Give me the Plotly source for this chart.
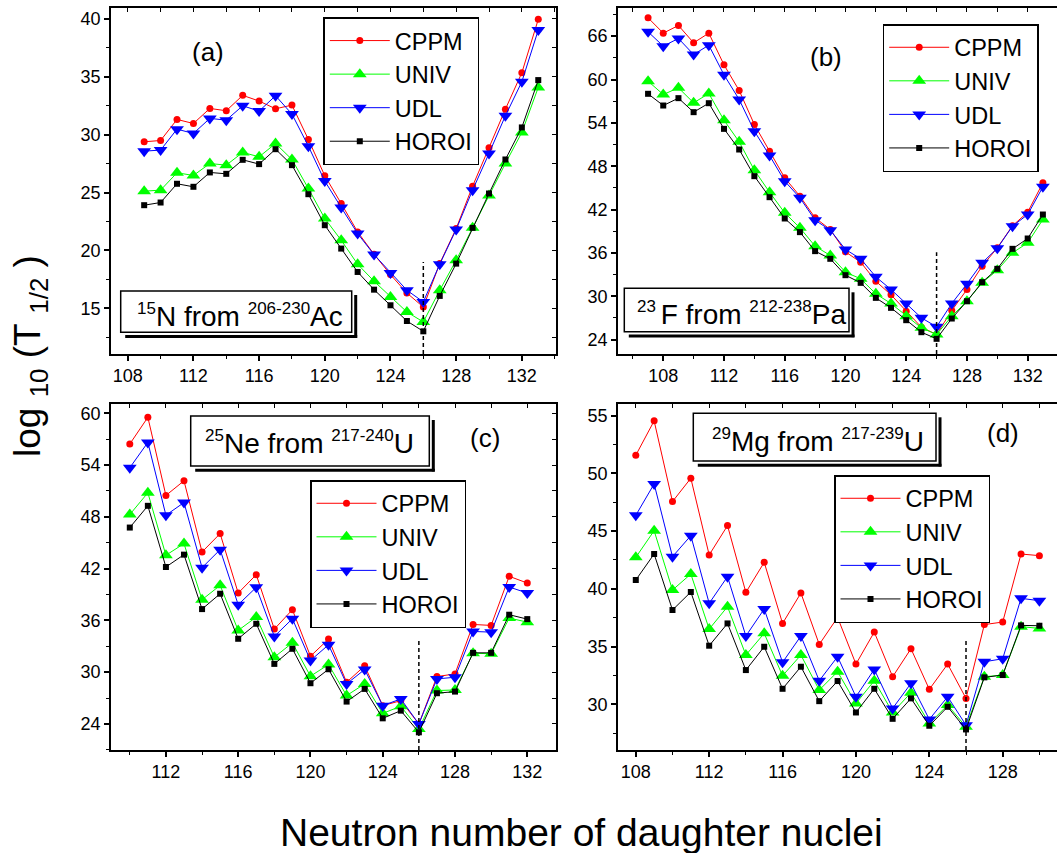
import plotly.graph_objects as go

# ---------------- data ----------------
# (a) 15N from 206-230Ac
n_a = [109, 110, 111, 112, 113, 114, 115, 116, 117, 118, 119, 120, 121, 122, 123, 124, 125, 126, 127, 128, 129, 130, 131, 132, 133]
cppm_a = [29.39, 29.50, 31.32, 30.97, 32.27, 32.07, 33.40, 32.91, 32.24, 32.56, 29.59, 26.45, 24.05, 21.60, 19.67, 17.91, 16.32, 15.11, 18.87, 21.89, 25.55, 28.87, 32.21, 35.36, 39.97]
univ_a = [25.12, 25.21, 26.71, 26.48, 27.51, 27.37, 28.47, 28.09, 29.24, 27.86, 25.35, 22.76, 20.88, 18.81, 17.34, 15.98, 14.68, 13.82, 16.56, 19.15, 21.95, 24.75, 27.52, 30.20, 34.09]
udl_a = [28.58, 28.67, 30.48, 30.11, 31.41, 31.26, 32.50, 32.04, 33.37, 31.78, 29.01, 25.99, 23.71, 21.46, 19.64, 18.06, 16.56, 15.55, 18.81, 21.81, 25.21, 28.38, 31.64, 34.58, 39.05]
horoi_a = [23.91, 24.14, 25.76, 25.50, 26.74, 26.62, 27.83, 27.46, 28.75, 27.37, 24.86, 22.18, 20.16, 18.14, 16.61, 15.26, 13.90, 13.01, 16.07, 18.86, 21.95, 24.92, 27.86, 30.63, 34.72]

# (b) 23F from 212-238Pa
n_b = [107, 108, 109, 110, 111, 112, 113, 114, 115, 116, 117, 118, 119, 120, 121, 122, 123, 124, 125, 126, 127, 128, 129, 130, 131, 132, 133]
cppm_b = [68.54, 66.42, 67.48, 65.08, 66.42, 62.03, 58.48, 53.77, 50.08, 46.39, 43.85, 40.85, 39.23, 36.14, 34.71, 32.08, 30.19, 27.93, 25.71, 24.70, 28.02, 30.93, 34.16, 36.70, 39.75, 41.63, 45.70]
univ_b = [59.77, 57.92, 58.85, 56.77, 58.06, 54.37, 51.37, 47.45, 44.40, 41.54, 39.47, 36.93, 35.64, 33.33, 32.41, 30.33, 28.99, 27.24, 25.62, 24.70, 27.24, 29.31, 31.85, 33.60, 36.00, 37.39, 40.62]
udl_b = [66.60, 64.62, 65.68, 63.46, 64.75, 60.65, 57.23, 52.85, 49.48, 45.93, 43.62, 40.53, 39.14, 36.47, 35.18, 32.68, 30.93, 28.99, 27.01, 25.76, 28.99, 31.71, 34.62, 36.65, 39.70, 41.31, 45.14]
horoi_b = [58.02, 56.40, 57.42, 55.48, 56.72, 53.17, 50.31, 46.62, 43.71, 40.76, 38.87, 36.24, 35.18, 32.91, 31.85, 29.77, 28.39, 26.68, 25.02, 24.10, 26.91, 29.31, 31.94, 33.79, 36.56, 37.99, 41.31]

# (c) 25Ne from 217-240U
n_c = [110, 111, 112, 113, 114, 115, 116, 117, 118, 119, 120, 121, 122, 123, 124, 125, 126, 127, 128, 129, 130, 131, 132]
cppm_c = [56.44, 59.54, 50.48, 52.18, 43.93, 46.06, 39.17, 41.30, 34.99, 37.24, 31.85, 33.83, 28.83, 30.73, 26.12, 26.70, 24.00, 29.49, 29.80, 35.53, 35.42, 41.11, 40.33]
univ_c = [48.27, 50.79, 43.55, 44.90, 38.40, 40.06, 34.84, 36.38, 31.74, 33.40, 29.53, 30.89, 27.29, 28.64, 25.23, 26.05, 23.41, 27.87, 27.94, 32.20, 32.13, 36.27, 35.80]
udl_c = [53.69, 56.63, 48.19, 49.66, 42.11, 44.20, 37.82, 39.83, 34.14, 36.19, 31.35, 33.17, 28.64, 30.31, 26.12, 26.90, 24.00, 29.22, 29.41, 34.72, 34.64, 39.87, 39.17]
horoi_c = [46.76, 49.28, 42.19, 43.62, 37.31, 39.09, 33.87, 35.61, 30.96, 32.71, 28.72, 30.34, 26.59, 28.06, 24.65, 25.54, 23.03, 27.56, 27.75, 32.24, 32.24, 36.66, 36.15]

# (d) 29Mg from 217-239U
n_d = [108, 109, 110, 111, 112, 113, 114, 115, 116, 117, 118, 119, 120, 121, 122, 123, 124, 125, 126, 127, 128, 129, 130]
cppm_d = [51.56, 54.54, 47.55, 49.57, 42.93, 45.47, 39.69, 42.29, 37.00, 39.63, 35.18, 37.52, 33.48, 36.25, 32.38, 34.81, 31.29, 33.48, 30.51, 36.90, 37.12, 43.01, 42.87]
univ_d = [42.72, 45.03, 39.89, 41.28, 36.51, 38.45, 34.26, 36.14, 32.47, 34.26, 31.23, 32.82, 30.07, 32.04, 29.29, 31.00, 28.34, 29.93, 28.05, 32.38, 32.53, 36.72, 36.57]
udl_d = [46.36, 49.08, 42.78, 44.60, 38.74, 41.05, 35.91, 38.25, 33.63, 35.91, 32.04, 34.12, 30.65, 33.02, 29.64, 31.81, 28.69, 30.65, 28.19, 33.68, 33.94, 39.17, 38.97]
horoi_d = [40.76, 43.01, 38.16, 39.72, 35.07, 37.00, 32.96, 34.98, 31.34, 33.25, 30.27, 32.01, 29.29, 31.34, 28.74, 30.51, 28.14, 29.78, 27.82, 32.33, 32.53, 36.83, 36.80]

series_names = ["CPPM", "UNIV", "UDL", "HOROI"]
panel_labels = ["(a)", "(b)", "(c)", "(d)"]
panel_titles = [
    "<sup><span style='font-size:17px'>15</span></sup>N from <sup><span style='font-size:17px'>206-230</span></sup>Ac",
    "<sup><span style='font-size:17px'>23 </span></sup>F from <sup><span style='font-size:17px'>212-238</span></sup>Pa",
    "<sup><span style='font-size:17px'>25</span></sup>Ne from <sup><span style='font-size:17px'>217-240</span></sup>U",
    "<sup><span style='font-size:17px'>29</span></sup>Mg from <sup><span style='font-size:17px'>217-239</span></sup>U",
]
magic_n = 126
magic_line_top = [19.0, 36.1, 33.9, 35.7]

panels = [
    dict(n=n_a, vals=[cppm_a, univ_a, udl_a, horoi_a]),
    dict(n=n_b, vals=[cppm_b, univ_b, udl_b, horoi_b]),
    dict(n=n_c, vals=[cppm_c, univ_c, udl_c, horoi_c]),
    dict(n=n_d, vals=[cppm_d, univ_d, udl_d, horoi_d]),
]

# ---------------- style / layout ----------------
W, H = 1057, 853
FONT = "Liberation Sans, Arial, sans-serif"

def fx(p):
    return p / W

def fy(p):
    return 1 - p / H

# panel pixel boxes: left, right, top, bottom
boxes = [(111, 556, 8, 354), (618, 1057, 8, 354), (111, 556, 404, 750), (618, 1057, 404, 750)]
xranges = [[106.98, 134.08], [105.02, 133.93], [108.96, 133.59], [107.03, 130.96]]
yranges = [[11.05, 40.95], [22.0, 69.9], [20.98, 61.08], [26.04, 56.0]]
ydticks = [5, 6, 6, 5]
right_visible = [True, False, True, False]

styles = {
    "CPPM": dict(color="#ff0000", symbol="circle", size=7),
    "UNIV": dict(color="#00ff00", symbol="triangle-up", size=12),
    "UDL": dict(color="#0000ff", symbol="triangle-down", size=12),
    "HOROI": dict(color="#000000", symbol="square", size=6),
}

legend_pos = [(323.3, 17.3), (882.7, 24.0), (310.0, 480.0), (834.0, 475.0)]
legend_ids = ["legend", "legend2", "legend3", "legend4"]

# title boxes (pixels): rect x0, y0, x1, y1 ; text left, text center y
title_boxes = [
    (120.7, 291.0, 351.7, 332.3, 135.0, 316.0),
    (624.3, 288.3, 849.0, 331.7, 635.0, 314.0),
    (190.7, 416.0, 429.3, 466.0, 202.7, 442.0),
    (693.3, 413.3, 936.0, 461.0, 710.0, 441.0),
]
label_pos = [(208.3, 51.7), (826.0, 56.7), (485.0, 438.3), (1002.7, 433.3)]

fig = go.Figure()
layout = dict(
    width=W, height=H,
    margin=dict(l=0, r=0, t=0, b=0),
    paper_bgcolor="white", plot_bgcolor="white",
    font=dict(family=FONT, color="black"),
    showlegend=True,
)
shapes = []
annotations = []

for i, p in enumerate(panels):
    k = i + 1
    xs = "" if k == 1 else str(k)
    xo = str(k + 4)
    l, r, t, b = boxes[i]
    dom_x = [fx(l), fx(r)]
    dom_y = [fy(b), fy(t)]
    lg = legend_ids[i]
    for name, vals in zip(series_names, p["vals"]):
        st = styles[name]
        fig.add_trace(go.Scatter(
            x=p["n"], y=vals, name=name, mode="lines+markers",
            xaxis="x" + xs, yaxis="y" + xs, legend=lg,
            line=dict(color=st["color"], width=1),
            marker=dict(color=st["color"], symbol=st["symbol"], size=st["size"], line=dict(width=0)),
        ))
    # empty trace carrying the mirrored (top/right) axes
    fig.add_trace(go.Scatter(x=[], y=[], xaxis="x" + xo, yaxis="y" + xo,
                             showlegend=False, hoverinfo="skip"))

    layout["xaxis" + xs] = dict(
        domain=dom_x, anchor="y" + xs, range=xranges[i], dtick=4, tick0=0,
        showline=True, linecolor="black", linewidth=1.5, mirror=False,
        ticks="outside", ticklen=5, tickwidth=1.5, tickcolor="black",
        minor=dict(dtick=2, ticks="outside", ticklen=3, tickwidth=1, tickcolor="black"),
        showgrid=False, zeroline=False,
        tickfont=dict(family=FONT, size=18, color="black"),
    )
    layout["yaxis" + xs] = dict(
        domain=dom_y, anchor="x" + xs, range=yranges[i], dtick=ydticks[i], tick0=0,
        showline=True, linecolor="black", linewidth=1.5, mirror=False,
        ticks="outside", ticklen=5, tickwidth=1.5, tickcolor="black",
        minor=dict(dtick=ydticks[i] / 2, ticks="outside", ticklen=3, tickwidth=1, tickcolor="black"),
        showgrid=False, zeroline=False,
        tickfont=dict(family=FONT, size=18, color="black"),
    )
    layout["xaxis" + xo] = dict(
        overlaying="x" + xs, anchor="y" + xo, side="top", range=xranges[i],
        dtick=2, tick0=0, showticklabels=False,
        showline=True, linecolor="black", linewidth=1.5,
        ticks="inside", ticklen=4, tickwidth=1, tickcolor="black",
        showgrid=False, zeroline=False,
    )
    layout["yaxis" + xo] = dict(
        overlaying="y" + xs, anchor="x" + xo, side="right", range=yranges[i],
        dtick=ydticks[i] / 2, tick0=0, showticklabels=False,
        showline=right_visible[i], linecolor="black", linewidth=1.5,
        ticks="inside" if right_visible[i] else "", ticklen=4, tickwidth=1, tickcolor="black",
        showgrid=False, zeroline=False,
    )

    lx, ly = legend_pos[i]
    layout[lg] = dict(
        x=fx(lx), y=fy(ly), xanchor="left", yanchor="top",
        bordercolor="black", borderwidth=1.5, bgcolor="white",
        font=dict(family=FONT, size=23.5, color="black"),
        itemwidth=60, itemsizing="trace", tracegroupgap=0,
    )

    # vertical dashed line at the magic neutron number
    shapes.append(dict(type="line", xref="x" + xs, yref="y" + xs,
                       x0=magic_n, x1=magic_n, y0=yranges[i][0], y1=magic_line_top[i],
                       line=dict(color="black", width=1.5, dash="4px,3px")))

    # title box with shadow
    bx0, by0, bx1, by1, tx, ty = title_boxes[i]
    shapes.append(dict(type="rect", xref="paper", yref="paper",
                       x0=fx(bx0), x1=fx(bx1), y0=fy(by1), y1=fy(by0),
                       line=dict(color="black", width=1.5), fillcolor="white"))
    shapes.append(dict(type="line", xref="paper", yref="paper",
                       x0=fx(bx0 + 4.5), x1=fx(bx1 + 5.5), y0=fy(by1 + 4.3), y1=fy(by1 + 4.3),
                       line=dict(color="black", width=3)))
    shapes.append(dict(type="line", xref="paper", yref="paper",
                       x0=fx(bx1 + 4.0), x1=fx(bx1 + 4.0), y0=fy(by0 + 4.0), y1=fy(by1 + 5.5),
                       line=dict(color="black", width=3)))
    annotations.append(dict(text=panel_titles[i], xref="paper", yref="paper",
                            x=fx(tx), y=fy(ty), xanchor="left", yanchor="middle",
                            showarrow=False, font=dict(family=FONT, size=28, color="black")))
    plx, ply = label_pos[i]
    annotations.append(dict(text=panel_labels[i], xref="paper", yref="paper",
                            x=fx(plx), y=fy(ply), xanchor="center", yanchor="middle",
                            showarrow=False, font=dict(family=FONT, size=26, color="black")))

annotations.append(dict(text="Neutron number of daughter nuclei", xref="paper", yref="paper",
                        x=fx(581), y=fy(832), xanchor="center", yanchor="middle",
                        showarrow=False, font=dict(family=FONT, size=39, color="black")))
annotations.append(dict(text="log <sub>10</sub> (T <sub>1/2</sub> )", xref="paper", yref="paper",
                        x=fx(30), y=fy(356), xanchor="center", yanchor="middle", textangle=-90,
                        showarrow=False, font=dict(family=FONT, size=37, color="black")))

layout["shapes"] = shapes
layout["annotations"] = annotations
fig.update_layout(**layout)

fig.write_html("out.html", config={"displayModeBar": False},
               post_script="document.body.style.margin='0';")
